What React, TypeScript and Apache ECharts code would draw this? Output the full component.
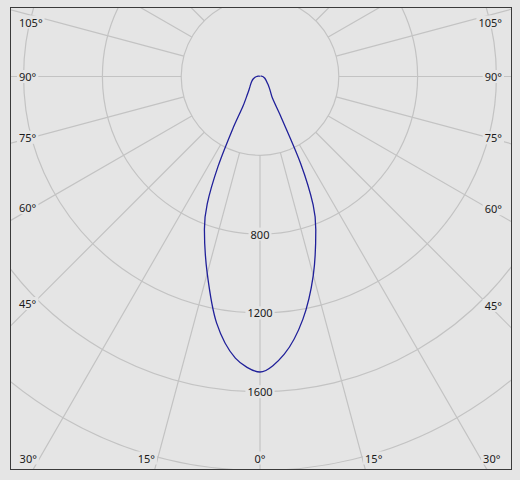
import React, { useEffect, useRef } from "react";
import * as echarts from "echarts";

// Photometric data (candela)
const gammaAngles = [0, 5, 10, 15, 20, 22.5, 25, 27.5, 30, 35, 40, 45, 50, 60, 70, 80, 90, 100, 120, 150, 180];
const leftIntensity = [1500, 1435, 1270, 1035, 825, 700, 505, 300, 170, 112, 86, 72, 62, 48, 37, 27, 17, 10, 4, 1, 0];
const rightIntensity = [1500, 1415, 1252, 1045, 828, 705, 490, 225, 125, 92, 72, 58, 46, 34, 26, 19, 13, 8, 3, 1, 0];
const angleTickLabels = [0, 15, 30, 45, 60, 75, 90, 105];
const radiusTickLabels = [800, 1200, 1600];

const BG = "#e5e5e5";
const GRID = "#c3c3c3";
const CURVE = "#20209a";
const TEXT = "#1a1a1a";
const FONT = '11px "Noto Sans", sans-serif';

export default function App() {
  const ref = useRef<HTMLDivElement>(null);

  useEffect(() => {
    if (!ref.current) return;
    const chart = echarts.init(ref.current, undefined, { renderer: "svg" });

    const leftData = gammaAngles.map((g, i) => [leftIntensity[i], g]).reverse();
    const rightData = gammaAngles.slice(1).map((g, i) => [rightIntensity[i + 1], 360 - g]);
    const curve = [...leftData, ...rightData];

    const angleLabelData: number[][] = [];
    angleTickLabels.forEach((a) => {
      angleLabelData.push([2000, a]);
      if (a !== 0) angleLabelData.push([2000, 360 - a]);
    });

    const k = 0.197;
    const center = [249, 68.5];
    const hiddenAxis = {
      axisLine: { show: false },
      axisTick: { show: false },
      axisLabel: { show: false },
    };
    const option: any = {
      animation: false,
      backgroundColor: BG,
      polar: [
        { center, radius: [400 * k, 2400 * k] },
        { center, radius: [0, 2400 * k] },
      ],
      angleAxis: [
        {
          polarIndex: 0,
          type: "value",
          min: 0,
          max: 360,
          interval: 15,
          startAngle: 270,
          clockwise: true,
          ...hiddenAxis,
          splitLine: { show: true, lineStyle: { color: GRID, width: 1.2 } },
        },
        {
          polarIndex: 1,
          type: "value",
          min: 0,
          max: 360,
          interval: 15,
          startAngle: 270,
          clockwise: true,
          ...hiddenAxis,
          splitLine: { show: false },
        },
      ],
      radiusAxis: [
        {
          polarIndex: 0,
          type: "value",
          min: 400,
          max: 2400,
          interval: 400,
          ...hiddenAxis,
          splitLine: { show: true, lineStyle: { color: GRID, width: 1.2 } },
        },
        {
          polarIndex: 1,
          type: "value",
          min: 0,
          max: 2400,
          interval: 400,
          ...hiddenAxis,
          splitLine: { show: false },
        },
      ],
      series: [
        {
          type: "line",
          coordinateSystem: "polar",
          polarIndex: 1,
          data: curve,
          smooth: 0.3,
          symbol: "none",
          clip: false,
          lineStyle: { color: CURVE, width: 1.3 },
          z: 3,
        },
        {
          type: "custom",
          coordinateSystem: "polar",
          polarIndex: 0,
          data: angleLabelData,
          silent: true,
          z: 5,
          renderItem: (params: any, api: any) => {
            const cs = params.coordSys;
            const a = api.value(1);
            const p = api.coord([2000, a]);
            const dx = p[0] - cs.cx;
            const dy = p[1] - cs.cy;
            const W = api.getWidth();
            const H = api.getHeight();
            const g = a <= 180 ? a : 360 - a;
            const text = g + "°";
            let x = 0;
            let y = 0;
            let align = "center";
            const bottomY = H - 11;
            let bottom = false;
            if (dy > 0.0001) {
              const t = (bottomY - cs.cy) / dy;
              const xb = cs.cx + dx * t;
              if (xb >= 15 && xb <= W - 15) {
                bottom = true;
                x = xb + Math.sign(Math.round(dx * 1000)) * 11.5;
                x = Math.max(17, Math.min(W - 19, x));
                y = bottomY;
                align = "center";
              }
            }
            if (!bottom) {
              const xe = dx < 0 ? 22 : W - 22;
              const t = (xe - cs.cx) / dx;
              y = Math.max(14, cs.cy + dy * t);
              x = dx < 0 ? 6 : W - 7;
              align = dx < 0 ? "left" : "right";
            }
            return {
              type: "text",
              x,
              y,
              style: {
                text,
                fill: TEXT,
                font: FONT,
                align,
                verticalAlign: "middle",
                backgroundColor: BG,
                padding: [1, 2],
              },
            };
          },
        },
        {
          type: "custom",
          coordinateSystem: "polar",
          polarIndex: 0,
          data: radiusTickLabels.map((v) => [v, 0]),
          silent: true,
          z: 5,
          renderItem: (params: any, api: any) => {
            const p = api.coord([api.value(0), api.value(1)]);
            return {
              type: "text",
              x: p[0],
              y: p[1],
              style: {
                text: String(api.value(0)),
                fill: TEXT,
                font: FONT,
                align: "center",
                verticalAlign: "middle",
                backgroundColor: BG,
                padding: [1, 2],
              },
            };
          },
        },
      ],
    };
    chart.setOption(option);
    return () => chart.dispose();
  }, []);

  return (
    <div style={{ position: "fixed", left: 0, top: 0, width: 520, height: 480, background: BG }}>
      <div
        style={{
          position: "absolute",
          left: 10,
          top: 7,
          width: 502,
          height: 463,
          boxSizing: "border-box",
          border: "1px solid #3a3a3a",
          background: BG,
        }}
      >
        <div ref={ref} style={{ width: 500, height: 461 }} />
      </div>
    </div>
  );
}
